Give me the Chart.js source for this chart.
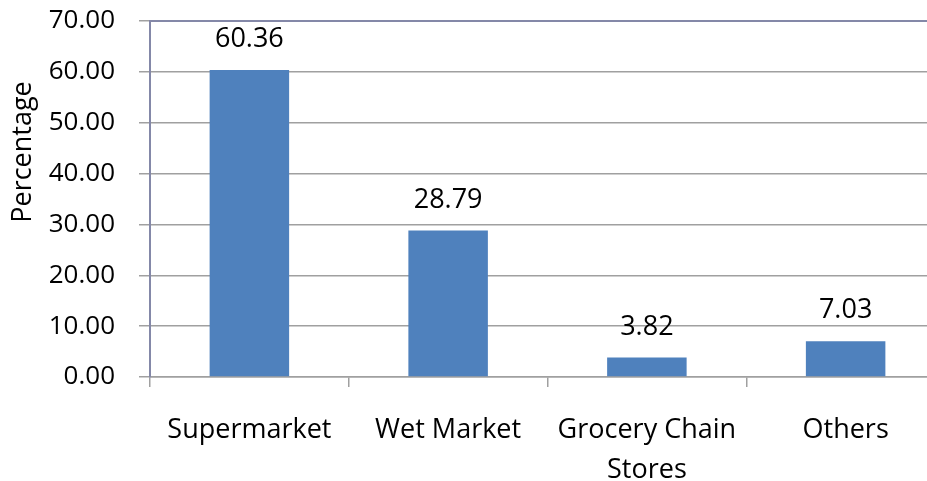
<!DOCTYPE html>
<html><head><meta charset="utf-8">
<script src="https://cdn.jsdelivr.net/npm/chart.js@4/dist/chart.umd.min.js"></script>
<style>html,body{margin:0;padding:0;overflow:hidden;background:#fff;width:927px;height:481px}
#wrap{width:945px;height:481px;position:relative}</style>
</head><body><div id="wrap"><canvas id="c" width="945" height="481"></canvas></div>
<script>
const categories = [["Supermarket"], ["Wet Market"], ["Grocery Chain", "Stores"], ["Others"]];
const values = [60.36, 28.79, 3.82, 7.03];
const yTicks = [0, 10, 20, 30, 40, 50, 60, 70];
const yTitle = "Percentage";
const FONT = "'Open Sans'";

const labelPlugin = {
  id: 'vals',
  afterDatasetsDraw(chart) {
    const ctx = chart.ctx;
    const meta = chart.getDatasetMeta(0);
    ctx.save();
    ctx.font = '27px ' + FONT;
    ctx.fillStyle = '#000';
    ctx.textAlign = 'center';
    ctx.textBaseline = 'alphabetic';
    meta.data.forEach((bar, i) => {
      ctx.fillText(values[i].toFixed(2), bar.x, bar.y - 23);
    });
    ctx.restore();
  },
  beforeDatasetsDraw(chart) {
    const ctx = chart.ctx, a = chart.chartArea;
    ctx.save();
    ctx.strokeStyle = '#8488a8';
    ctx.lineWidth = 2;
    ctx.beginPath();
    ctx.moveTo(a.left, a.top);
    ctx.lineTo(a.right, a.top);
    ctx.stroke();
    // y-axis title, placed as in the reference (above the vertical centre)
    ctx.translate(23, 152);
    ctx.rotate(-Math.PI / 2);
    ctx.font = '27px ' + FONT;
    ctx.fillStyle = '#000';
    ctx.textAlign = 'center';
    ctx.textBaseline = 'middle';
    ctx.fillText(yTitle, 0, 0);
    ctx.restore();
  }
};

new Chart(document.getElementById('c'), {
  type: 'bar',
  data: {
    labels: categories,
    datasets: [{ data: values, backgroundColor: '#4f81bd', borderWidth: 0,
      categoryPercentage: 1, barPercentage: 0.4 }]
  },
  options: {
    responsive: false,
    animation: false,
    layout: { padding: { top: 21, left: 0, right: 0, bottom: 0 } },
    plugins: { legend: { display: false }, tooltip: { enabled: false } },
    scales: {
      x: {
        grid: { display: true, drawOnChartArea: false, drawTicks: true, tickLength: 10, color: '#a0a0a0', offset: true, lineWidth: 1.5 },
        border: { display: true, color: '#a0a0a0', width: 1.5 },
        ticks: { color: '#000', font: { family: FONT, size: 27, lineHeight: 1.48 }, padding: 23, maxRotation: 0, autoSkip: false },
        afterFit(s) { s.height = 104; s.paddingLeft = 0; s.paddingRight = 0; }
      },
      y: {
        min: 0, max: 70,
        afterBuildTicks(s) { s.ticks = yTicks.map(v => ({ value: v })); },
        grid: { color: '#a0a0a0', lineWidth: 1.5, tickLength: 11, drawTicks: true },
        border: { display: true, color: '#8488a8', width: 2 },
        ticks: { color: '#000', font: { family: FONT, size: 26 }, padding: 24,
          callback: v => Number(v).toFixed(2) },
        title: { display: false },
        afterFit(s) { s.width = 150; s.paddingTop = 0; s.paddingBottom = 0; }
      }
    }
  },
  plugins: [labelPlugin]
});
</script></body></html>
